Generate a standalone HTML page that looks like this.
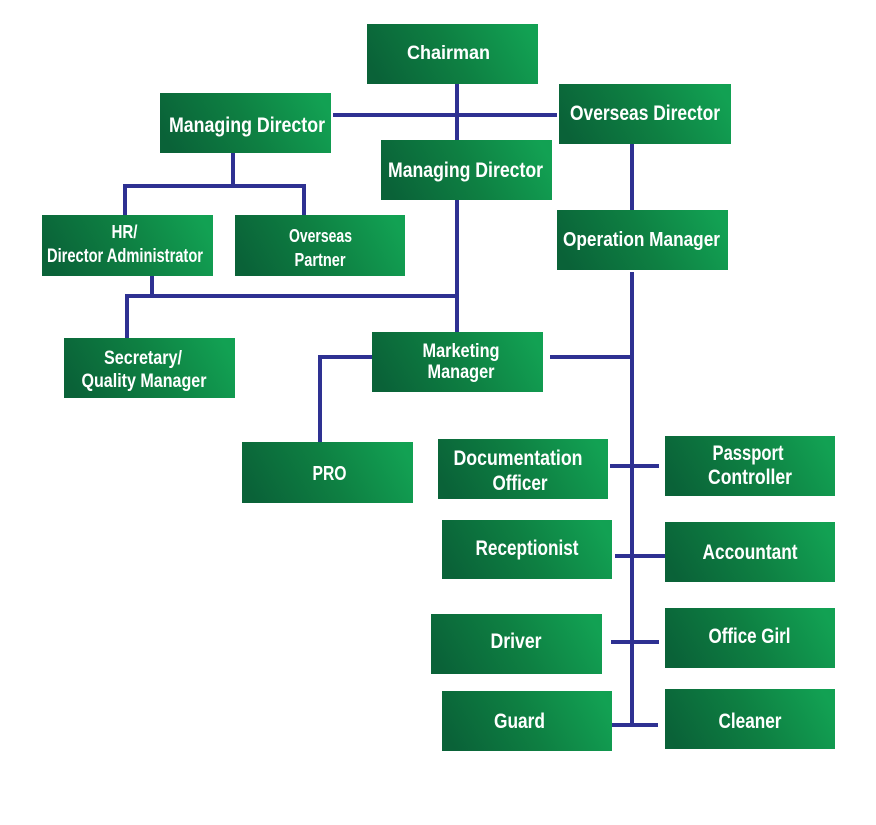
<!DOCTYPE html>
<html>
<head>
<meta charset="utf-8">
<style>
  html,body{margin:0;padding:0;background:#ffffff;}
  svg{display:block;}
  text{font-family:"Liberation Sans", sans-serif;font-weight:bold;fill:#ffffff;}
</style>
</head>
<body>
<svg width="876" height="825" viewBox="0 0 876 825" xmlns="http://www.w3.org/2000/svg">
  <defs>
    <linearGradient id="g" x1="0" y1="0.6" x2="1" y2="0.4">
      <stop offset="0" stop-color="#0a6238"/>
      <stop offset="0.5" stop-color="#0e7f42"/>
      <stop offset="1" stop-color="#12a153"/>
    </linearGradient>
  </defs>
  <rect width="876" height="825" fill="#ffffff"/>

  <!-- connectors -->
  <g stroke="#2e3192" stroke-width="4" fill="none" stroke-linecap="butt">
    <line x1="457" y1="84" x2="457" y2="140"/>
    <line x1="333" y1="115" x2="557" y2="115"/>
    <line x1="233" y1="153" x2="233" y2="186"/>
    <polyline points="125,215 125,186 304,186 304,215"/>
    <line x1="632" y1="144" x2="632" y2="210"/>
    <line x1="457" y1="200" x2="457" y2="332"/>
    <line x1="152" y1="276" x2="152" y2="296"/>
    <polyline points="127,338 127,296 457,296"/>
    <polyline points="372,357 320,357 320,442"/>
    <line x1="550" y1="357" x2="632" y2="357"/>
    <line x1="632" y1="272" x2="632" y2="727"/>
    <line x1="610" y1="466" x2="659" y2="466"/>
    <line x1="615" y1="556" x2="665" y2="556"/>
    <line x1="611" y1="642" x2="659" y2="642"/>
    <line x1="609" y1="725" x2="658" y2="725"/>
  </g>

  <!-- boxes -->
  <g fill="url(#g)">
    <rect x="367" y="24" width="171" height="60"/>
    <rect x="160" y="93" width="171" height="60"/>
    <rect x="559" y="84" width="172" height="60"/>
    <rect x="381" y="140" width="171" height="60"/>
    <rect x="42" y="215" width="171" height="61"/>
    <rect x="235" y="215" width="170" height="61"/>
    <rect x="557" y="210" width="171" height="60"/>
    <rect x="64" y="338" width="171" height="60"/>
    <rect x="372" y="332" width="171" height="60"/>
    <rect x="242" y="442" width="171" height="61"/>
    <rect x="438" y="439" width="170" height="60"/>
    <rect x="665" y="436" width="170" height="60"/>
    <rect x="442" y="520" width="170" height="59"/>
    <rect x="665" y="522" width="170" height="60"/>
    <rect x="431" y="614" width="171" height="60"/>
    <rect x="665" y="608" width="170" height="60"/>
    <rect x="442" y="691" width="170" height="60"/>
    <rect x="665" y="689" width="170" height="60"/>
  </g>

  <!-- labels -->
  <g text-anchor="middle">
    <text x="448.5" y="59" font-size="19" textLength="83" lengthAdjust="spacingAndGlyphs">Chairman</text>
    <text x="247" y="132" font-size="21" textLength="156" lengthAdjust="spacingAndGlyphs">Managing Director</text>
    <text x="645" y="120" font-size="21" textLength="150" lengthAdjust="spacingAndGlyphs">Overseas Director</text>
    <text x="465.5" y="177" font-size="21" textLength="155" lengthAdjust="spacingAndGlyphs">Managing Director</text>
    <text x="124.5" y="238" font-size="18" textLength="26" lengthAdjust="spacingAndGlyphs">HR/</text>
    <text x="125" y="262" font-size="19" textLength="156" lengthAdjust="spacingAndGlyphs">Director Administrator</text>
    <text x="320.5" y="242" font-size="18" textLength="63" lengthAdjust="spacingAndGlyphs">Overseas</text>
    <text x="320" y="266" font-size="18" textLength="51" lengthAdjust="spacingAndGlyphs">Partner</text>
    <text x="641.5" y="246" font-size="20" textLength="157" lengthAdjust="spacingAndGlyphs">Operation Manager</text>
    <text x="143" y="364" font-size="19" textLength="78" lengthAdjust="spacingAndGlyphs">Secretary/</text>
    <text x="144" y="387" font-size="19" textLength="125" lengthAdjust="spacingAndGlyphs">Quality Manager</text>
    <text x="461" y="357" font-size="19" textLength="77" lengthAdjust="spacingAndGlyphs">Marketing</text>
    <text x="461" y="378" font-size="19" textLength="67" lengthAdjust="spacingAndGlyphs">Manager</text>
    <text x="329.5" y="480" font-size="20" textLength="34" lengthAdjust="spacingAndGlyphs">PRO</text>
    <text x="518" y="465" font-size="21" textLength="129" lengthAdjust="spacingAndGlyphs">Documentation</text>
    <text x="520" y="490" font-size="21" textLength="55" lengthAdjust="spacingAndGlyphs">Officer</text>
    <text x="748" y="460" font-size="21" textLength="71" lengthAdjust="spacingAndGlyphs">Passport</text>
    <text x="750" y="484" font-size="21" textLength="84" lengthAdjust="spacingAndGlyphs">Controller</text>
    <text x="527" y="555" font-size="21" textLength="103" lengthAdjust="spacingAndGlyphs">Receptionist</text>
    <text x="750" y="559" font-size="21" textLength="95" lengthAdjust="spacingAndGlyphs">Accountant</text>
    <text x="516" y="648" font-size="21" textLength="51" lengthAdjust="spacingAndGlyphs">Driver</text>
    <text x="749.5" y="643" font-size="21" textLength="82" lengthAdjust="spacingAndGlyphs">Office Girl</text>
    <text x="519.5" y="728" font-size="21" textLength="51" lengthAdjust="spacingAndGlyphs">Guard</text>
    <text x="750" y="728" font-size="21" textLength="63" lengthAdjust="spacingAndGlyphs">Cleaner</text>
  </g>
</svg>
</body>
</html>
